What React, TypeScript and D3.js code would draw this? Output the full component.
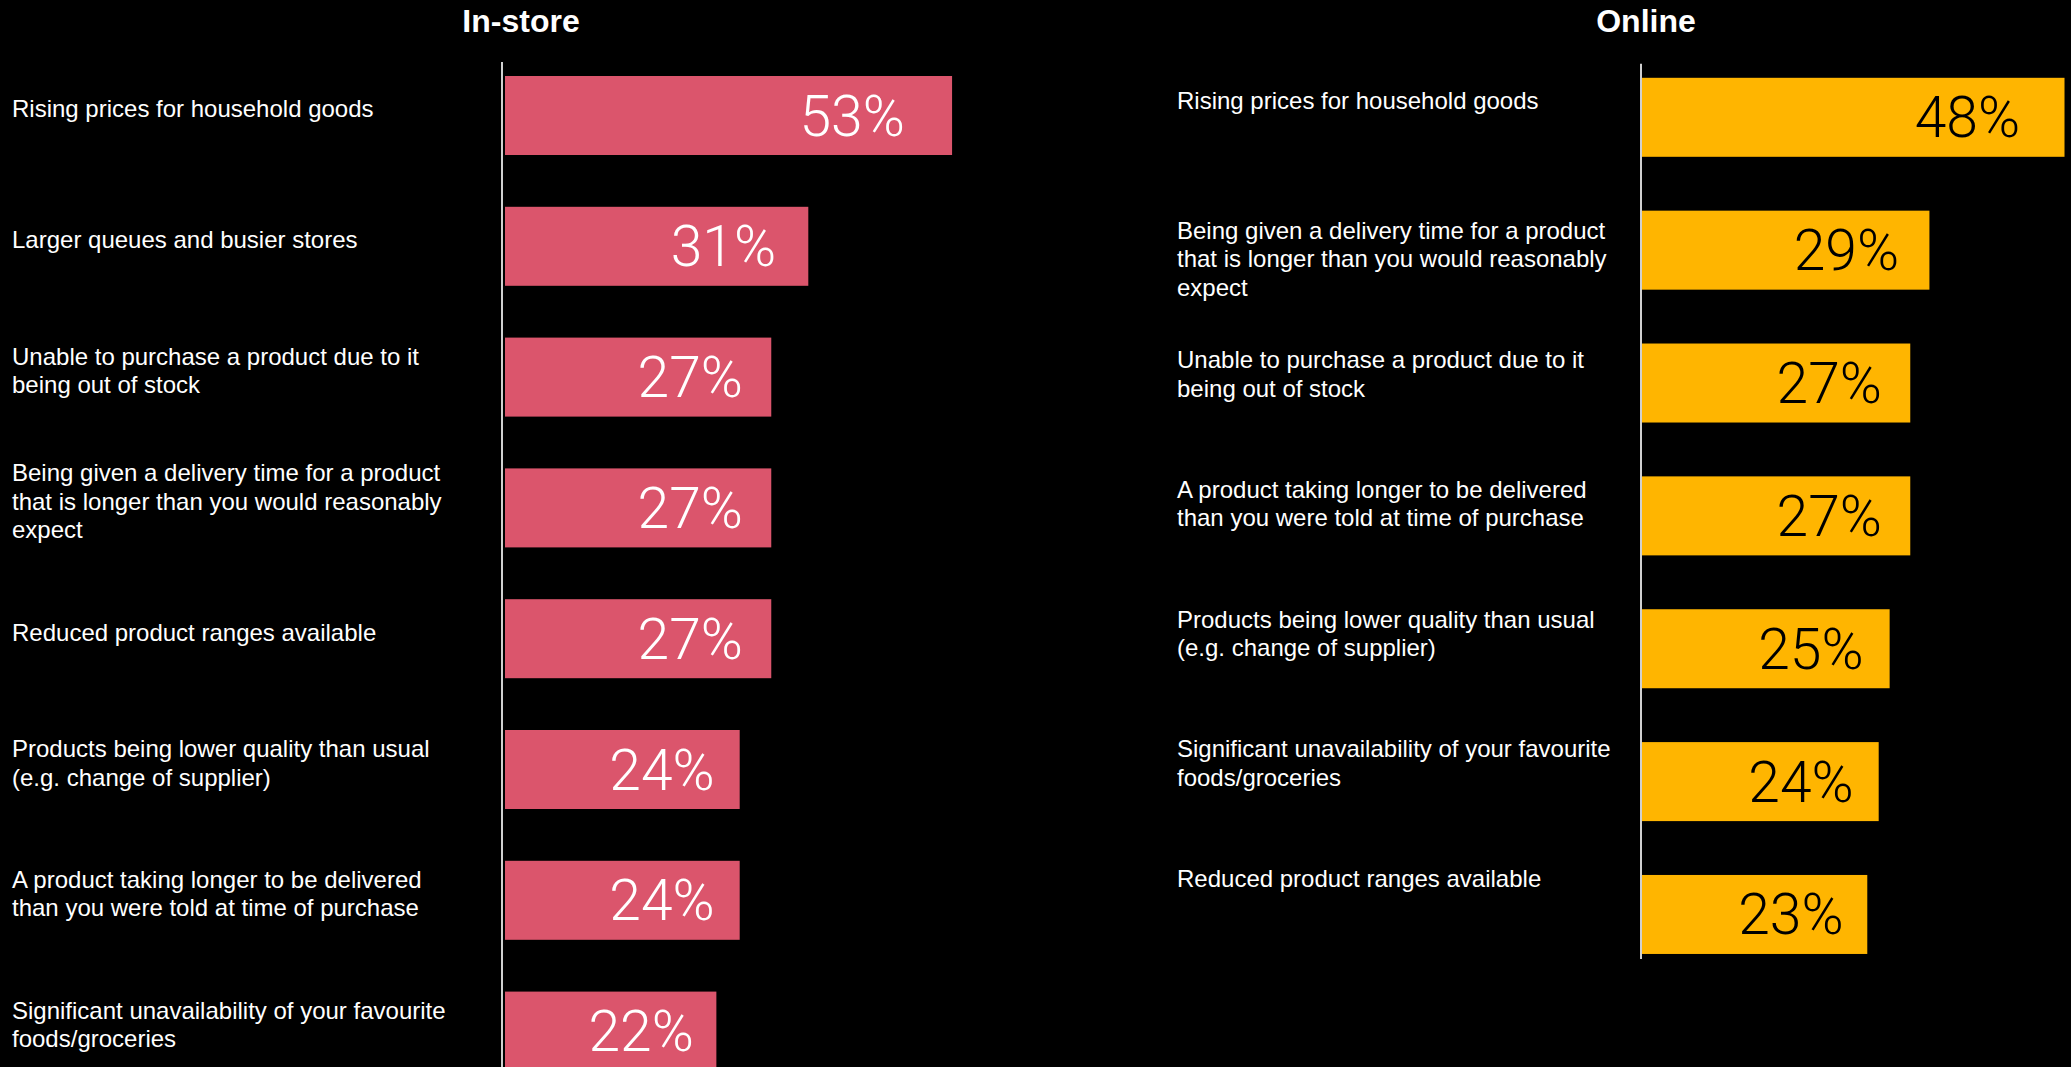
import React from 'react';
import * as d3 from 'd3';

// ---- data ----
const inStoreCategories = [
  'Rising prices for household goods',
  'Larger queues and busier stores',
  'Unable to purchase a product due to it\nbeing out of stock',
  'Being given a delivery time for a product\nthat is longer than you would reasonably\nexpect',
  'Reduced product ranges available',
  'Products being lower quality than usual\n(e.g. change of supplier)',
  'A product taking longer to be delivered\nthan you were told at time of purchase',
  'Significant unavailability of your favourite\nfoods/groceries',
];
const inStoreValues = [53, 31, 27, 27, 27, 24, 24, 22];

const onlineCategories = [
  'Rising prices for household goods',
  'Being given a delivery time for a product\nthat is longer than you would reasonably\nexpect',
  'Unable to purchase a product due to it\nbeing out of stock',
  'A product taking longer to be delivered\nthan you were told at time of purchase',
  'Products being lower quality than usual\n(e.g. change of supplier)',
  'Significant unavailability of your favourite\nfoods/groceries',
  'Reduced product ranges available',
];
const onlineValues = [48, 29, 27, 27, 25, 24, 23];

const panelTitles = ['In-store', 'Online'];

// ---- layout ----
const W = 2071;
const H = 1067;
const BAR_H = 79;
const LINE_H = 28.5;
const LABEL_FONT = "'Liberation Sans', Arial, Helvetica, sans-serif";
const VALUE_FONT = "Roboto, 'Liberation Sans', sans-serif";

const lengthScale = d3.scaleLog().domain([10, 55]).range([3, 460]);

type PanelProps = {
  title: string;
  cats: string[];
  vals: number[];
  axisX: number;
  titleX: number;
  labelX: number;
  top: number;
  step: number;
  barGap: number;
  color: string;
  textColor: string;
  labelMode: 'center' | 'top';
  labelOffset: number;
  labelRange?: [number, number];
};

function Panel(p: PanelProps) {
  const n = p.cats.length;
  const y = d3
    .scaleBand<string>()
    .domain(p.cats.map((_, i) => String(i)))
    .range([p.top, p.top + (n - 1) * p.step + BAR_H])
    .paddingInner(1 - BAR_H / p.step)
    .paddingOuter(0);
  const labelY = d3
    .scalePoint<string>()
    .domain(p.cats.map((_, i) => String(i)))
    .range(p.labelRange ?? [0, 1]);

  const axisTop = p.top - 14;
  const axisBottom = (y(String(n - 1)) as number) + BAR_H + 5;

  return (
    <g>
      <text
        x={p.titleX}
        y={32}
        textAnchor="middle"
        fill="#fff"
        fontFamily={LABEL_FONT}
        fontWeight={700}
        fontSize={32}
      >
        {p.title}
      </text>
      {p.cats.map((c, i) => {
        const lines = c.split('\n');
        const by = y(String(i)) as number;
        const cy = by + BAR_H / 2;
        let firstBaseline: number;
        if (p.labelMode === 'center') {
          firstBaseline = cy + p.labelOffset - ((lines.length - 1) * LINE_H) / 2 + 8.5;
        } else {
          firstBaseline = labelY(String(i)) as number;
        }
        const w = lengthScale(p.vals[i]);
        return (
          <g key={i}>
            <text
              x={p.labelX}
              y={firstBaseline}
              fill="#fff"
              fontFamily={LABEL_FONT}
              fontSize={24}
            >
              {lines.map((l, j) => (
                <tspan key={j} x={p.labelX} y={firstBaseline + j * LINE_H}>
                  {l}
                </tspan>
              ))}
            </text>
            <rect x={p.axisX + p.barGap} y={by} width={w - p.barGap} height={y.bandwidth()} fill={p.color} />
            <text
              x={p.axisX + w * 0.895}
              y={cy + 20}
              textAnchor="end"
              fill={p.textColor}
              fontFamily={VALUE_FONT}
              fontWeight={300}
              fontSize={57}
            >
              {p.vals[i]}%
            </text>
          </g>
        );
      })}
      <line x1={p.axisX} x2={p.axisX} y1={axisTop} y2={axisBottom} stroke="#d0d0d0" strokeWidth={2} />
    </g>
  );
}

export default function App() {
  return (
    <div style={{ position: 'fixed', left: 0, top: 0, right: 0, bottom: 0, background: '#000', overflow: 'hidden' }}>
      <svg width={W} height={H} style={{ display: 'block' }}>
        <rect x={0} y={0} width={W} height={H} fill="#000" />
        <Panel
          title={panelTitles[0]}
          cats={inStoreCategories}
          vals={inStoreValues}
          axisX={502}
          titleX={521}
          labelX={12}
          top={76}
          step={130.8}
          barGap={3}
          color="#db556c"
          textColor="#fff"
          labelMode="center"
          labelOffset={-6.7}
        />
        <Panel
          title={panelTitles[1]}
          cats={onlineCategories}
          vals={onlineValues}
          axisX={1641}
          titleX={1646}
          labelX={1177}
          top={77.8}
          step={132.86}
          barGap={-1}
          color="#ffb500"
          textColor="#000"
          labelMode="top"
          labelOffset={0}
          labelRange={[108.8, 887]}
        />
      </svg>
    </div>
  );
}
